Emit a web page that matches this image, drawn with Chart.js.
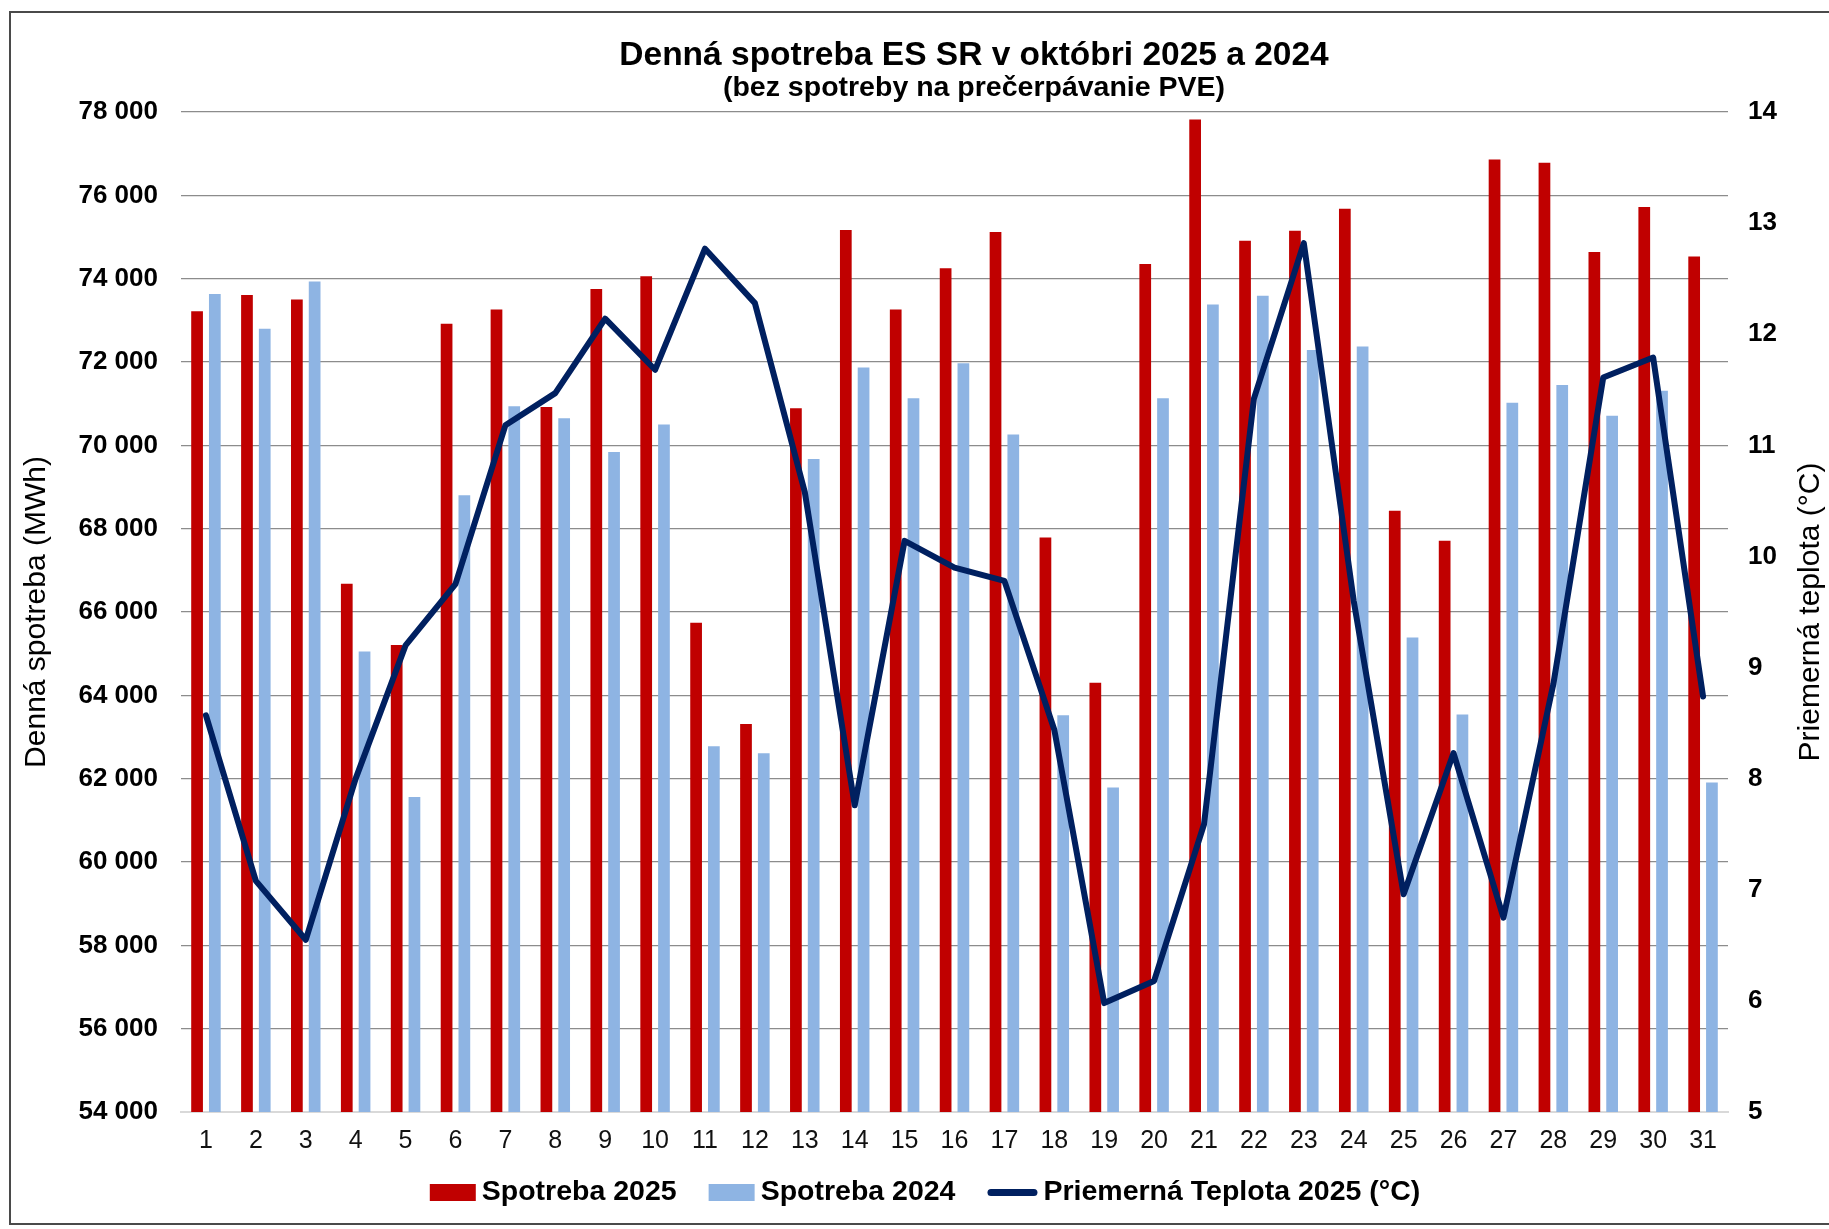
<!DOCTYPE html>
<html>
<head>
<meta charset="utf-8">
<script src="https://cdn.jsdelivr.net/npm/chart.js@4/dist/chart.umd.min.js"></script>
<style>
  html, body { margin: 0; padding: 0; background: #ffffff; }
  #wrap { position: relative; width: 1829px; height: 1229px; overflow: hidden; background: #fff; }
  #frame { position: absolute; left: 9px; top: 11px; width: 1830px; height: 1214px; border: 2px solid #4a4a4a; box-sizing: border-box; pointer-events: none; }
</style>
</head>
<body>
<div id="wrap">
  <canvas id="c" width="1829" height="1229"></canvas>
  <div id="frame"></div>
</div>
<script>
// ---- data ----
const days = ['1','2','3','4','5','6','7','8','9','10','11','12','13','14','15','16','17','18','19','20','21','22','23','24','25','26','27','28','29','30','31'];
const spotreba2025 = [73220, 73610, 73500, 66680, 65210, 72920, 73260, 70920, 73750, 74060, 65740, 63310, 70890, 75170, 73260, 74250, 75120, 67790, 64300, 74350, 77820, 74910, 75150, 75680, 68430, 67710, 76860, 76780, 74640, 75720, 74530];
const spotreba2024 = [73630, 72800, 73930, 65050, 61560, 68800, 70940, 70650, 69840, 70500, 62780, 62610, 69670, 71870, 71130, 71970, 70260, 63520, 61790, 71130, 73380, 73590, 72290, 72370, 65390, 63540, 71020, 71450, 70710, 71310, 61910];
const teplota2025 = [8.57, 7.08, 6.55, 8.0, 9.2, 9.75, 11.18, 11.47, 12.14, 11.68, 12.77, 12.28, 10.58, 7.76, 10.14, 9.90, 9.78, 8.44, 5.98, 6.18, 7.59, 11.42, 12.82, 9.6, 6.96, 8.23, 6.75, 8.85, 11.61, 11.79, 8.74];
const seriesLabels = ['Spotreba 2025', 'Spotreba 2024', 'Priemerná Teplota 2025 (°C)'];
const titleText = 'Denná spotreba ES SR v októbri 2025 a 2024';
const subtitleText = '(bez spotreby na prečerpávanie PVE)';
const leftAxisTitle = 'Denná spotreba (MWh)';
const rightAxisTitle = 'Priemerná teplota (°C)';
const leftAxisRange = [54000, 78000, 2000];
const rightAxisRange = [5, 14, 1];

const FAM = '"Liberation Sans", Arial, sans-serif';

function fmtThousands(v) {
  return String(v).replace(/\B(?=(\d{3})+(?!\d))/g, ' ');
}

// Title + subtitle (centred slightly right of the canvas centre, as in the reference)
const headerPlugin = {
  id: 'header',
  afterDraw(chart) {
    const ctx = chart.ctx;
    ctx.save();
    ctx.fillStyle = '#000';
    ctx.textAlign = 'center';
    ctx.textBaseline = 'middle';
    ctx.font = 'bold 33.5px ' + FAM;
    ctx.fillText(titleText, 974, 55.5);
    ctx.font = 'bold 28.5px ' + FAM;
    ctx.fillText(subtitleText, 974, 88.5);
    ctx.restore();
  }
};

// Rotated right-axis title reading bottom-to-top
const rightTitlePlugin = {
  id: 'rightTitle',
  afterDraw(chart) {
    const ctx = chart.ctx;
    const ca = chart.chartArea;
    ctx.save();
    ctx.translate(chart.width - 18, (ca.top + ca.bottom) / 2);
    ctx.rotate(-Math.PI / 2);
    ctx.font = '30px ' + FAM;
    ctx.fillStyle = '#000';
    ctx.textAlign = 'center';
    ctx.textBaseline = 'middle';
    ctx.fillText(rightAxisTitle, 0, 0);
    ctx.restore();
  }
};

// Legend drawn from the datasets
const legendPlugin = {
  id: 'xlLegend',
  afterDraw(chart) {
    const ctx = chart.ctx;
    ctx.save();
    ctx.font = 'bold 28.5px ' + FAM;
    const items = chart.data.datasets.map(ds => ({ ds, w: ctx.measureText(ds.label).width }));
    const boxW = 46, boxH = 17, gap = 6, spacing = 32, lineW = 50;
    let total = 0;
    items.forEach((it, i) => {
      total += (it.ds.type === 'line' ? lineW : boxW) + gap + it.w + (i < items.length - 1 ? spacing : 0);
    });
    let x = 925 - total / 2;
    const yc = 1192.5;
    items.forEach(it => {
      if (it.ds.type === 'line') {
        ctx.strokeStyle = it.ds.borderColor;
        ctx.lineWidth = 7;
        ctx.lineCap = 'round';
        ctx.beginPath();
        ctx.moveTo(x + 3.5, yc);
        ctx.lineTo(x + lineW - 3.5, yc);
        ctx.stroke();
        x += lineW;
      } else {
        ctx.fillStyle = it.ds.backgroundColor;
        ctx.fillRect(x, yc - boxH / 2, boxW, boxH);
        x += boxW;
      }
      x += gap;
      ctx.fillStyle = '#000';
      ctx.textAlign = 'left';
      ctx.textBaseline = 'middle';
      ctx.fillText(it.ds.label, x, yc);
      x += it.w + spacing;
    });
    ctx.restore();
  }
};

new Chart(document.getElementById('c'), {
  data: {
    labels: days,
    datasets: [
      { type: 'bar', label: seriesLabels[0], data: spotreba2025, backgroundColor: '#C00000', borderWidth: 0, yAxisID: 'y', order: 2,
        categoryPercentage: 0.712, barPercentage: 0.66 },
      { type: 'bar', label: seriesLabels[1], data: spotreba2024, backgroundColor: '#8EB4E3', borderWidth: 0, yAxisID: 'y', order: 2,
        categoryPercentage: 0.712, barPercentage: 0.66 },
      { type: 'line', label: seriesLabels[2], data: teplota2025, borderColor: '#002060', backgroundColor: '#002060', borderWidth: 6,
        pointRadius: 0, pointHoverRadius: 0, tension: 0, borderJoinStyle: 'round', borderCapStyle: 'round', yAxisID: 'y1', order: 0 }
    ]
  },
  options: {
    responsive: false,
    devicePixelRatio: 1,
    animation: false,
    layout: { padding: { left: 0, right: 0, top: 112, bottom: 73 } },
    plugins: {
      tooltip: { enabled: false },
      title: { display: false },
      subtitle: { display: false },
      legend: { display: false }
    },
    scales: {
      x: {
        type: 'category',
        offset: true,
        grid: { display: false, drawTicks: false },
        border: { display: true, color: '#d9d9d9', width: 2 },
        ticks: { color: '#111', padding: 14, font: { family: FAM, size: 25 }, maxRotation: 0, autoSkip: false },
        afterFit(scale) { scale.height = 44; }
      },
      y: {
        type: 'linear', position: 'left',
        min: leftAxisRange[0], max: leftAxisRange[1],
        ticks: { stepSize: leftAxisRange[2], color: '#000', padding: 23,
                 font: { family: FAM, size: 26, weight: 'bold' },
                 callback: (v) => fmtThousands(v) },
        grid: { drawTicks: false, lineWidth: 1.3,
                color: (c) => (c.tick && c.tick.value === leftAxisRange[0]) ? 'rgba(0,0,0,0)' : '#8c8c8c' },
        border: { display: false },
        title: { display: true, text: leftAxisTitle, color: '#000',
                 font: { family: FAM, size: 30 }, padding: { top: 19, bottom: 0 } },
        afterFit(scale) { scale.width = 181; }
      },
      y1: {
        type: 'linear', position: 'right',
        min: rightAxisRange[0], max: rightAxisRange[1],
        ticks: { stepSize: rightAxisRange[2], color: '#000', padding: 20,
                 font: { family: FAM, size: 26, weight: 'bold' } },
        grid: { display: false, drawTicks: false },
        border: { display: false },
        afterFit(scale) { scale.width = 101; }
      }
    }
  },
  plugins: [headerPlugin, rightTitlePlugin, legendPlugin]
});
</script>
</body>
</html>
